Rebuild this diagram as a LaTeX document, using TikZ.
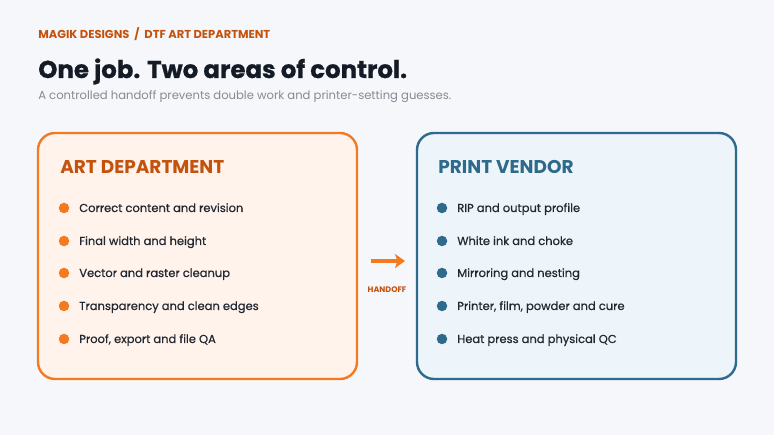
\documentclass[tikz,border=0pt]{standalone}
\usepackage{fontspec}
\setmainfont{Poppins}
\newfontfamily\itemfont[FakeBold=0.6]{Poppins}
\newfontfamily\heavyfont[FakeBold=0.8]{Poppins Bold}
\usepackage{xcolor}
\usepackage{tikz}
\usetikzlibrary{positioning, calc, arrows.meta}

\definecolor{pagebg}{HTML}{F5F7FA}
\definecolor{rust}{HTML}{C4520C}
\definecolor{artorange}{HTML}{F47A22}
\definecolor{artfill}{HTML}{FFF3EB}
\definecolor{vendblue}{HTML}{2D6A8B}
\definecolor{vendfill}{HTML}{EEF5FA}
\definecolor{inkdark}{HTML}{131B27}
\definecolor{itemdark}{HTML}{222831}
\definecolor{subgrey}{HTML}{858B94}

\tikzset{
    kicker/.style={anchor=base west, text=rust, font=\bfseries\fontsize{11.5}{13}\selectfont, inner sep=0pt},
    headline/.style={anchor=base west, text=inkdark, font=\heavyfont\fontsize{24.4}{28}\selectfont, inner sep=0pt},
    subline/.style={anchor=base west, text=subgrey, font=\fontsize{11.6}{14}\selectfont, inner sep=0pt},
    panel/.style={line width=2.4pt, rounded corners=17pt},
    panelhead/.style={anchor=base west, font=\bfseries\fontsize{18.5}{22}\selectfont, inner sep=0pt},
    item/.style={anchor=base west, text=itemdark, font=\itemfont\fontsize{11.5}{14}\selectfont, inner sep=0pt},
    dot/.style={circle, minimum size=10.5pt, inner sep=0pt}
}

\begin{document}
\begin{tikzpicture}[%
    >=Stealth,          % arrow tip
    x=1pt, y=-1pt,      % work in pixels, y going down
    semithick
]
    % background
    \fill[pagebg] (0,0) rectangle (774,435);
    \useasboundingbox (0,0) rectangle (774,435);

    % ==========================================
    % 1. Title block
    % ==========================================
    \node[kicker] (kick) at (38,39) {MAGIK DESIGNS \ / \ DTF ART DEPARTMENT};
    \node[headline] (title) at (38,78) {One job. Two areas of control.};
    \node[subline] (sub) at (38,100) {A controlled handoff prevents double work and printer-setting guesses.};

    % ==========================================
    % 2. Panels
    % ==========================================
    \draw[panel, draw=artorange, fill=artfill] (38,133) rectangle (357,379);
    \draw[panel, draw=vendblue, fill=vendfill] (417,133) rectangle (736,379);

    \node[panelhead, text=rust] (arthead) at (60,174) {ART DEPARTMENT};
    \node[panelhead, text=vendblue] (vendhead) at (438,174) {PRINT VENDOR};

    % --- Art department items ---
    \node[dot, fill=artorange] (ad1) at (64,208) {};
    \node[dot, fill=artorange] (ad2) at (64,241) {};
    \node[dot, fill=artorange] (ad3) at (64,273) {};
    \node[dot, fill=artorange] (ad4) at (64,306) {};
    \node[dot, fill=artorange] (ad5) at (64,339) {};
    \node[item] (at1) at (79,212) {Correct content and revision};
    \node[item] (at2) at (79,245) {Final width and height};
    \node[item] (at3) at (79,277) {Vector and raster cleanup};
    \node[item] (at4) at (79,310) {Transparency and clean edges};
    \node[item] (at5) at (79,343) {Proof, export and file QA};

    % --- Print vendor items ---
    \node[dot, fill=vendblue] (pv1) at (442,208) {};
    \node[dot, fill=vendblue] (pv2) at (442,241) {};
    \node[dot, fill=vendblue] (pv3) at (442,273) {};
    \node[dot, fill=vendblue] (pv4) at (442,306) {};
    \node[dot, fill=vendblue] (pv5) at (442,339) {};
    \node[item] (pt1) at (457,212) {RIP and output profile};
    \node[item] (pt2) at (457,245) {White ink and choke};
    \node[item] (pt3) at (457,277) {Mirroring and nesting};
    \node[item] (pt4) at (457,310) {Printer, film, powder and cure};
    \node[item] (pt5) at (457,343) {Heat press and physical QC};

    % ==========================================
    % 3. Handoff arrow
    % ==========================================
    \coordinate (hoS) at (371,261);
    \coordinate (hoE) at (405,261);
    \draw[artorange, line width=4.2pt,
          arrows={-Stealth[length=10pt, width=14pt, inset=2.5pt]}] (hoS) -- (hoE);
    \node[anchor=base, text=rust, font=\bfseries\fontsize{8}{10}\selectfont, inner sep=0pt]
        (holabel) at (387,293) {HANDOFF};

\end{tikzpicture}
\end{document}
